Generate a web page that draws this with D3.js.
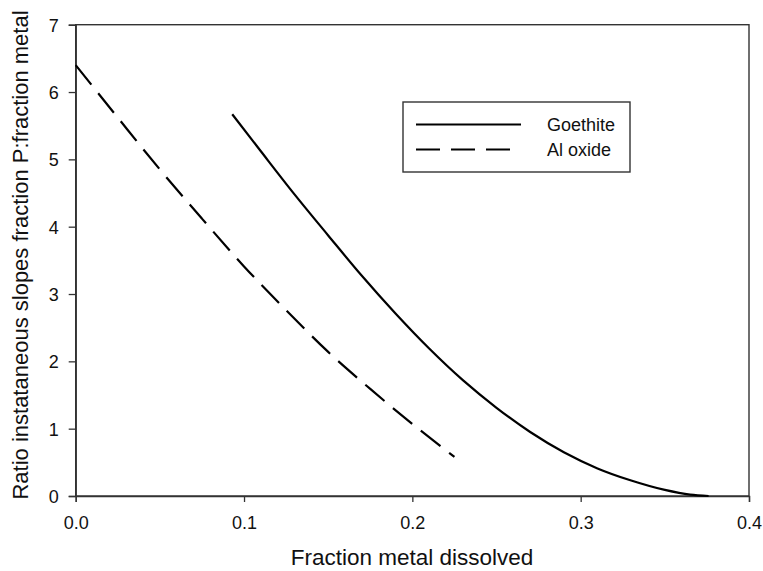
<!DOCTYPE html>
<html>
    <head>
        <meta charset="utf-8" />
        <script src="https://d3js.org/d3.v7.min.js"></script>
        <style>
            body { margin: 0; background: #fff; }
            svg { font-family: 'Liberation Sans', Arial, sans-serif; }
        </style>
    </head>
    <body>
        <svg width="763" height="571"></svg>
        <script>
            // values
            const goethiteX = [0.093, 0.11, 0.13, 0.15, 0.17, 0.19, 0.21, 0.23, 0.25, 0.27, 0.29, 0.31, 0.33, 0.35, 0.365, 0.376]
            const goethiteY = [5.67, 5.12, 4.48, 3.87, 3.27, 2.71, 2.19, 1.72, 1.31, 0.95, 0.65, 0.41, 0.23, 0.09, 0.02, 0.0]
            const alOxideX = [0, 0.025, 0.05, 0.075, 0.1, 0.125, 0.15, 0.175, 0.2, 0.225]
            const alOxideY = [6.4, 5.62, 4.85, 4.12, 3.41, 2.76, 2.14, 1.59, 1.07, 0.58]
            const xTicks = [0, 0.1, 0.2, 0.3, 0.4]
            const yTicks = [0, 1, 2, 3, 4, 5, 6, 7]
            const seriesNames = ['Goethite', 'Al oxide']

            const svg = d3.select('svg')
            const plotL = 75.7, plotR = 749, plotT = 24.7, plotB = 496

            const x = d3.scaleLinear().domain([0, 0.4]).range([plotL, plotR])
            const y = d3.scaleLinear().domain([0, 7]).range([plotB, plotT])

            // frame
            svg.append('rect')
                .attr('x', plotL).attr('y', plotT)
                .attr('width', plotR - plotL).attr('height', plotB - plotT)
                .attr('fill', 'none').attr('stroke', '#333').attr('stroke-width', 1.4)

            const xAxis = svg.append('g')
                .attr('transform', `translate(0,${plotB})`)
                .call(d3.axisBottom(x).tickValues(xTicks).tickFormat(d3.format('.1f')).tickSize(6).tickPadding(14))
            const yAxis = svg.append('g')
                .attr('transform', `translate(${plotL},0)`)
                .call(d3.axisLeft(y).tickValues(yTicks).tickFormat(d3.format('d')).tickSize(7).tickPadding(10))

            for (const ax of [xAxis, yAxis]) {
                ax.select('.domain').attr('stroke', '#333').attr('stroke-width', 1.4)
                ax.selectAll('.tick line').attr('stroke', '#333').attr('stroke-width', 1.3)
                ax.selectAll('.tick text')
                    .attr('font-size', 18)
                    .attr('font-family', "'Liberation Sans', Arial, sans-serif")
                    .attr('fill', '#111')
            }
            yAxis.selectAll('.tick text').attr('dy', '0.36em')

            const line = d3.line()
                .x((d) => x(d[0]))
                .y((d) => y(d[1]))
                .curve(d3.curveMonotoneX)

            svg.append('path')
                .datum(goethiteX.map((v, i) => [v, goethiteY[i]]))
                .attr('d', line)
                .attr('fill', 'none').attr('stroke', '#000').attr('stroke-width', 2.2)

            svg.append('path')
                .datum(alOxideX.map((v, i) => [v, alOxideY[i]]))
                .attr('d', line)
                .attr('fill', 'none').attr('stroke', '#000').attr('stroke-width', 2.2)
                .attr('stroke-dasharray', '25,11')

            // axis titles
            svg.append('text')
                .attr('x', 412).attr('y', 565)
                .attr('text-anchor', 'middle').attr('font-size', 22.5)
                .attr('fill', '#111')
                .text('Fraction metal dissolved')
            svg.append('text')
                .attr('transform', 'translate(28,255) rotate(-90)')
                .attr('text-anchor', 'middle').attr('font-size', 22)
                .attr('fill', '#111')
                .text('Ratio instataneous slopes fraction P:fraction metal')

            // legend
            const legend = svg.append('g')
            legend.append('rect')
                .attr('x', 403).attr('y', 102).attr('width', 227).attr('height', 70)
                .attr('fill', '#fff').attr('stroke', '#333').attr('stroke-width', 1.4)
            seriesNames.forEach((name, i) => {
                const ly = 124.5 + i * 25
                legend.append('line')
                    .attr('x1', 416).attr('x2', 521).attr('y1', ly).attr('y2', ly)
                    .attr('stroke', '#000').attr('stroke-width', 2.2)
                    .attr('stroke-dasharray', i === 1 ? '24,11' : null)
                legend.append('text')
                    .attr('x', 547).attr('y', ly + 6.5)
                    .attr('font-size', 18).attr('fill', '#111')
                    .text(name)
            })
        </script>
    </body>
</html>
